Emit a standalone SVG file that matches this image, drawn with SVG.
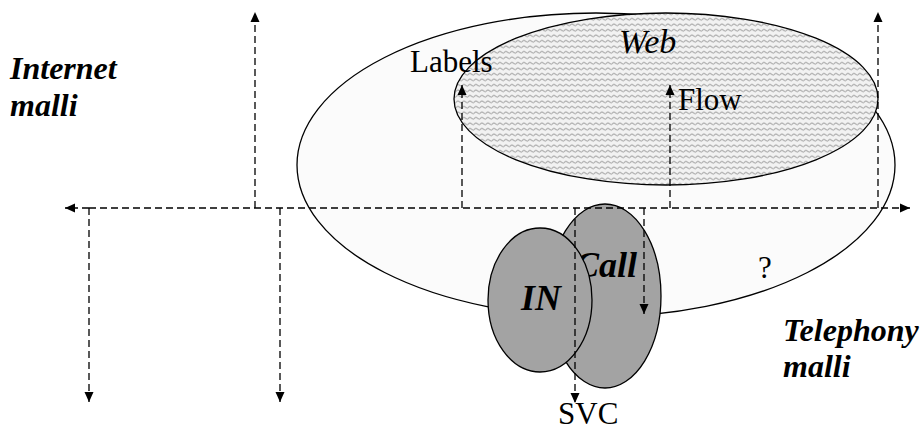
<svg xmlns="http://www.w3.org/2000/svg" width="922" height="432" viewBox="0 0 922 432">
<style>
.t{font-family:"Liberation Serif","Times New Roman",serif;fill:#000}
.reg{font-size:31px}
.it{font-size:34px;font-style:italic}
.bi{font-size:32px;font-weight:bold;font-style:italic}
.big{font-size:36px;font-weight:bold;font-style:italic}
.dash{fill:none;stroke:#000;stroke-width:1.3;stroke-dasharray:7 4}
.outline{stroke:#000;stroke-width:1.3}
</style>
<defs>
<pattern id="wave" patternUnits="userSpaceOnUse" width="6" height="5.5">
<rect width="6" height="5.5" fill="#f2f2f2"/>
<path d="M0,3.5 Q1.5,1 3,2.5 T6,3.5" fill="none" stroke="#a0a0a0" stroke-width="1"/>
</pattern>
<marker id="ah" markerUnits="userSpaceOnUse" markerWidth="11" markerHeight="10" refX="10" refY="5" orient="auto">
<path d="M0,0.5 L10,5 L0,9.5 z" fill="#000"/>
</marker>
</defs>
<rect width="922" height="432" fill="#fff"/>

<g id="telephony-area">
<ellipse cx="596" cy="165" rx="299" ry="152" fill="#fbfbfb" class="outline"/>
<text class="t reg" x="758" y="278">?</text>
</g>
<g id="web">
<ellipse cx="666" cy="99" rx="212" ry="86" fill="url(#wave)" class="outline"/>
<text class="t it" x="619" y="53">Web</text>
</g>
<g id="call">
<ellipse cx="605" cy="296" rx="56" ry="92" fill="#a3a3a3" class="outline"/>
<text class="t big" x="575" y="277">Call</text>
</g>
<g id="in">
<ellipse cx="540" cy="300" rx="52" ry="72" fill="#a3a3a3" class="outline"/>
<text class="t big" x="521" y="310">IN</text>
</g>

<g id="connectors">
<line class="dash" x1="89" y1="208" x2="65" y2="208" marker-end="url(#ah)"/>
<line class="dash" x1="89" y1="208" x2="910" y2="208" marker-end="url(#ah)"/>
<line class="dash" x1="89" y1="208" x2="89" y2="402" marker-end="url(#ah)"/>
<line class="dash" x1="280" y1="208" x2="280" y2="402" marker-end="url(#ah)"/>
<line class="dash" x1="255" y1="208" x2="255" y2="12" marker-end="url(#ah)"/>
<line class="dash" x1="462" y1="208" x2="462" y2="85" marker-end="url(#ah)"/>
<line class="dash" x1="670" y1="208" x2="670" y2="85" marker-end="url(#ah)"/>
<line class="dash" x1="878" y1="208" x2="878" y2="12" marker-end="url(#ah)"/>
<line class="dash" x1="575" y1="208" x2="575" y2="403" marker-end="url(#ah)"/>
<line class="dash" x1="644" y1="208" x2="644" y2="314" marker-end="url(#ah)"/>
</g>

<g id="labels">
<text class="t bi" x="10" y="79">Internet</text>
<text class="t bi" x="10" y="116">malli</text>
<text class="t bi" x="783" y="341">Telephony</text>
<text class="t bi" x="783" y="377">malli</text>
<text class="t reg" x="410" y="72">Labels</text>
<text class="t reg" x="678" y="110">Flow</text>
<text class="t reg" x="558" y="424">SVC</text>
</g>
</svg>
